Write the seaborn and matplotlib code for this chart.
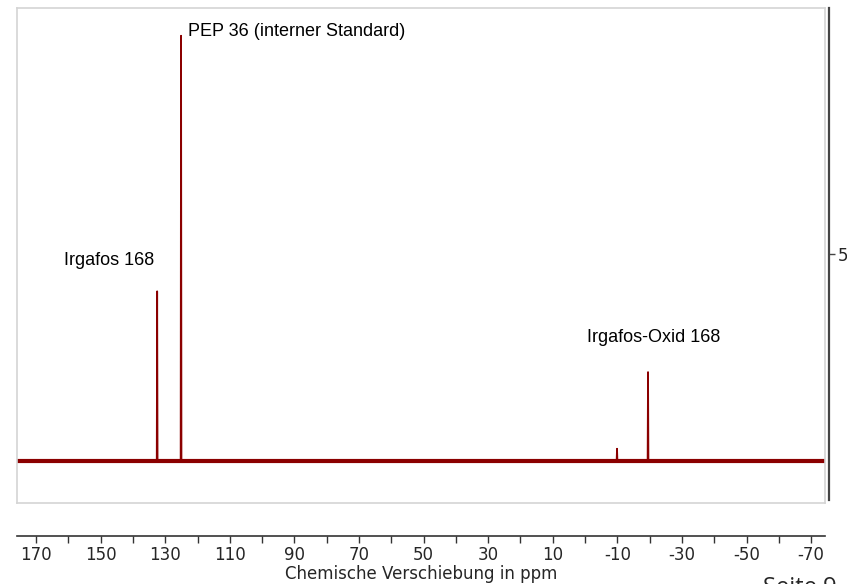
import numpy as np
import pandas as pd
import matplotlib
matplotlib.use("Agg")
import matplotlib.pyplot as plt
import seaborn as sns

# ---- data ----
peak_ppm = [132.5, 125.1, -19.5, -9.9]
peak_height = [4.1, 10.27, 2.15, 0.3]
peak_labels = ["Irgafos 168", "PEP 36 (interner Standard)", "Irgafos-Oxid 168"]
label_ppm = [147.4, 122.9, -21.3]
label_y = [4.73, 10.27, 2.87]
label_ha = ["center", "left", "center"]
x_ticks = [170, 150, 130, 110, 90, 70, 50, 30, 10, -10, -30, -50, -70]
x_minor = [160, 140, 120, 100, 80, 60, 40, 20, 0, -20, -40, -60]
y_ticks = [5]
x_range = [175.9, -74.3]
y_range = [-1.01, 10.94]

sns.set_theme(style="white")
plt.rcParams["font.family"] = ["DejaVu Sans"]

fig = plt.figure(figsize=(8.47, 5.84), dpi=100)
W, H = 847, 584

def frac(x0, y0, x1, y1):
    return [x0 / W, 1 - y1 / H, (x1 - x0) / W, (y1 - y0) / H]

ax = fig.add_axes(frac(17, 8, 825, 503))
red = "#8b0000"

# spectrum built from peaks
xs, ys = [x_range[0]], [0.0]
for p, h in sorted(zip(peak_ppm, peak_height), reverse=True):
    xs += [p + 0.12, p, p - 0.12]
    ys += [0.0, h, 0.0]
xs.append(x_range[1]); ys.append(0.0)
df = pd.DataFrame({"ppm": xs, "I": ys})
# noisy baseline represented as a thick band
ax.plot(x_range, [0, 0], color=red, lw=3.0, solid_capstyle="butt")
sns.lineplot(data=df, x="ppm", y="I", sort=False, estimator=None,
             color=red, lw=1.3, ax=ax)

ax.set_xlim(*x_range)
ax.set_ylim(*y_range)
ax.set_xticks([]); ax.set_yticks([])
ax.set_xlabel(""); ax.set_ylabel("")
for s in ax.spines.values():
    s.set_color("#d4d4d4"); s.set_linewidth(1.2)

for t, xp, yp, ha in zip(peak_labels, label_ppm, label_y, label_ha):
    ax.text(xp, yp, t, ha=ha, va="baseline",
            fontsize=13, family=["Liberation Sans"], color="black")

# right intensity axis
axr = fig.add_axes(frac(17, 8, 829, 500), facecolor="none")
axr.set_xlim(*x_range)
axr.set_ylim(y_range[0] + 3 / 41.4, y_range[1])
for k in ["left", "top", "bottom"]:
    axr.spines[k].set_visible(False)
axr.spines["right"].set_color("#444444"); axr.spines["right"].set_linewidth(1.6)
axr.yaxis.tick_right()
axr.set_yticks(y_ticks)
axr.set_xticks([])
axr.tick_params(axis="y", which="both", right=True, length=4, width=1, color="#444444",
                labelsize=12, pad=2)

# bottom ppm axis
axb = fig.add_axes(frac(17, 535, 825, 536), facecolor="none")
axb.set_xlim(*x_range)
axb.set_yticks([])
for k in ["left", "top", "right"]:
    axb.spines[k].set_visible(False)
axb.spines["bottom"].set_color("#333333"); axb.spines["bottom"].set_linewidth(1.2)
axb.set_xticks(x_ticks)
axb.set_xticklabels([str(v) for v in x_ticks])
axb.set_xticks(x_minor, minor=True)
axb.tick_params(axis="x", which="both", bottom=True, length=5, width=1, color="#333333",
                labelsize=12, pad=2)
axb.set_xlabel("Chemische Verschiebung in ppm", fontsize=12, labelpad=1)

fig.text(763 / W, 1 - 576 / H, "Seite 9", fontsize=17, va="top", ha="left",
         family=["Open Sans"])

fig.savefig("out.png", dpi=100)
